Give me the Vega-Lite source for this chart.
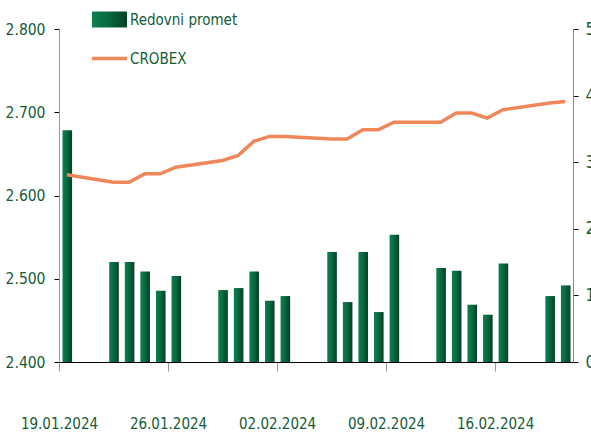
{
  "$schema": "https://vega.github.io/schema/vega-lite/v6.json",
  "width": 514,
  "height": 333,
  "autosize": {"type": "none"},
  "padding": {"left": 59, "top": 29, "right": 18, "bottom": 75},
  "background": "white",
  "config": {
    "view": {"stroke": null},
    "font": "DejaVu Sans Condensed, sans-serif",
    "axis": {"grid": false, "labelFont": "DejaVu Sans Condensed, sans-serif", "labelColor": "#145c38", "title": null}
  },
  "data": {
    "values": [
      {"date": "2024-01-19", "promet": 3.48, "crobex": 2625},
      {"date": "2024-01-22", "promet": 1.50, "crobex": 2616},
      {"date": "2024-01-23", "promet": 1.50, "crobex": 2616},
      {"date": "2024-01-24", "promet": 1.36, "crobex": 2626},
      {"date": "2024-01-25", "promet": 1.07, "crobex": 2626},
      {"date": "2024-01-26", "promet": 1.29, "crobex": 2634},
      {"date": "2024-01-29", "promet": 1.08, "crobex": 2642},
      {"date": "2024-01-30", "promet": 1.11, "crobex": 2648},
      {"date": "2024-01-31", "promet": 1.36, "crobex": 2665},
      {"date": "2024-02-01", "promet": 0.92, "crobex": 2671},
      {"date": "2024-02-02", "promet": 0.99, "crobex": 2671},
      {"date": "2024-02-05", "promet": 1.65, "crobex": 2668},
      {"date": "2024-02-06", "promet": 0.90, "crobex": 2668},
      {"date": "2024-02-07", "promet": 1.65, "crobex": 2679},
      {"date": "2024-02-08", "promet": 0.75, "crobex": 2679},
      {"date": "2024-02-09", "promet": 1.91, "crobex": 2688},
      {"date": "2024-02-12", "promet": 1.41, "crobex": 2688},
      {"date": "2024-02-13", "promet": 1.37, "crobex": 2699},
      {"date": "2024-02-14", "promet": 0.86, "crobex": 2699},
      {"date": "2024-02-15", "promet": 0.71, "crobex": 2693},
      {"date": "2024-02-16", "promet": 1.48, "crobex": 2703},
      {"date": "2024-02-19", "promet": 0.99, "crobex": 2711},
      {"date": "2024-02-20", "promet": 1.15, "crobex": 2713}
    ]
  },
  "layer": [
    {
      "mark": {
        "type": "bar",
        "width": {"band": 0.68},
        "color": {"gradient": "linear", "x1": 0, "y1": 0, "x2": 1, "y2": 0, "stops": [{"offset": 0, "color": "#0c8050"}, {"offset": 0.45, "color": "#086a40"}, {"offset": 1, "color": "#063f26"}]}
      },
      "encoding": {
        "x": {
          "field": "date", "type": "temporal", "timeUnit": "utcyearmonthdate",
          "scale": {"type": "utc", "domain": [{"year": 2024, "month": 1, "date": 19, "utc": true}, {"year": 2024, "month": 2, "date": 21, "utc": true}]},
          "axis": {
            "values": [
              {"year": 2024, "month": 1, "date": 19, "utc": true},
              {"year": 2024, "month": 1, "date": 26, "utc": true},
              {"year": 2024, "month": 2, "date": 2, "utc": true},
              {"year": 2024, "month": 2, "date": 9, "utc": true},
              {"year": 2024, "month": 2, "date": 16, "utc": true}
            ],
            "format": "%d.%m.%Y",
            "labelFontSize": 15,
            "labelPadding": 45,
            "tickSize": 9,
            "tickColor": "#999999",
            "domainColor": "#000000",
            "labelAlign": "center",
            "labelFlush": false
          }
        },
        "y": {
          "field": "promet", "type": "quantitative",
          "scale": {"domain": [0, 5], "nice": false},
          "axis": {"orient": "right", "values": [0, 1, 2, 3, 4, 5], "labelFontSize": 17, "labelPadding": 7, "tickSize": 5, "tickColor": "#000000", "domainColor": "#888888"}
        }
      }
    },
    {
      "mark": {"type": "line", "strokeWidth": 3.5},
      "encoding": {
        "x": {"field": "date", "type": "temporal", "timeUnit": "utcyearmonthdate", "bandPosition": 0.5},
        "y": {
          "field": "crobex", "type": "quantitative",
          "scale": {"domain": [2400, 2800], "nice": false},
          "axis": {"orient": "left", "values": [2400, 2500, 2600, 2700, 2800], "labelExpr": "replace(format(datum.value, ',d'), ',', '.')", "labelFontSize": 15.5, "labelPadding": 9, "tickSize": 5, "tickColor": "#000000", "domainColor": "#999999"}
        },
        "color": {
          "datum": "CROBEX",
          "type": "nominal",
          "scale": {"domain": ["Redovni promet", "CROBEX"], "range": ["#086a40", "#f0875a"]},
          "legend": {
            "orient": "none",
            "legendX": 43,
            "legendY": -17,
            "title": null,
            "symbolSize": 1225,
            "symbolStrokeWidth": 3.5,
            "labelFontSize": 15,
            "labelColor": "#145c38",
            "labelFont": "DejaVu Sans Condensed, sans-serif",
            "labelOffset": 13,
            "rowPadding": 23,
            "encode": {
              "symbols": {
                "update": {
                  "shape": {"signal": "datum.label === 'CROBEX' ? 'stroke' : 'M-1,-0.46H1V0.46H-1Z'"},
                  "strokeWidth": {"signal": "datum.label === 'CROBEX' ? 3.5 : 0"},
                  "fill": {"signal": "datum.label === 'CROBEX' ? 'transparent' : {gradient: 'linear', x1: 0, y1: 0, x2: 1, y2: 0, stops: [{offset: 0, color: '#0c8050'}, {offset: 0.45, color: '#086a40'}, {offset: 1, color: '#063f26'}]}"}
                }
              }
            }
          }
        }
      }
    }
  ],
  "resolve": {"scale": {"y": "independent"}}
}
